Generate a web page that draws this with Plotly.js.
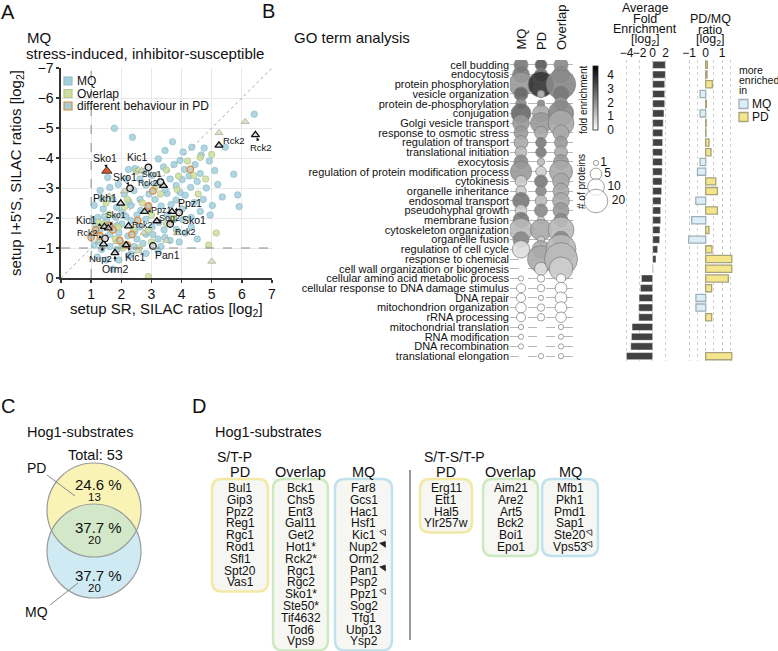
<!DOCTYPE html>
<html>
<head>
<meta charset="utf-8">
<script src="https://cdn.plot.ly/plotly-3.0.1.min.js"></script>
<style>
html,body{margin:0;padding:0;background:#fff;}
#chart{width:778px;height:651px;}
</style>
</head>
<body>
<div id="chart"></div>
<script>
// ================= DATA =================
// Panel A: SILAC ratios [log2]  (x: setup SR, y: setup I+5'S)
const mqX = [1.77,2.37,3.70,4.34,4.75,5.45,6.41,5.73,5.86,5.91,2.24,3.23,3.40,3.75,3.95,4.10,4.45,4.62,4.92,5.10,2.62,2.82,3.02,3.62,3.82,4.02,4.30,4.52,4.82,5.20,1.30,1.62,1.90,2.10,2.42,2.62,2.92,3.12,3.52,3.82,4.12,4.42,4.72,5.02,1.10,1.40,1.72,2.02,2.32,2.52,2.92,3.32,3.52,4.02,4.32,4.62,4.32,4.52,1.05,1.22,1.52,1.82,2.02,2.32,2.62,2.82,3.02,3.42,3.82,4.12,1.10,1.30,1.62,1.92,2.22,2.52,2.82,3.22,3.62,3.92,1.10,1.25,1.62,2.02,2.42,2.72,3.32,1.20,1.50,1.92,2.32,2.82,1.72,3.22,1.35,1.85,2.25,2.75,3.15,3.45,3.65,3.95,4.25,2.15,1.55,2.45,1.15,1.45,2.15,2.65,3.25,3.75,4.05,1.85,2.45,3.05,3.45,1.35,1.85,2.25,4.95,5.35,4.65,4.05,3.45];
const mqY = [-4.99,-4.69,-4.54,-4.36,-4.33,-4.36,-5.46,-3.46,-2.77,-2.38,-3.62,-3.97,-3.70,-3.78,-3.92,-3.62,-3.78,-3.48,-3.90,-3.58,-3.30,-3.10,-3.42,-3.30,-3.08,-3.28,-3.02,-3.22,-3.00,-3.12,-2.92,-3.02,-3.12,-2.80,-2.92,-2.62,-2.80,-2.62,-2.82,-2.60,-2.76,-2.52,-2.62,-2.42,-2.42,-2.30,-2.62,-2.20,-2.42,-2.10,-2.36,-2.40,-2.10,-2.30,-2.02,-2.22,-1.70,-1.30,-1.90,-2.02,-1.92,-2.02,-1.80,-1.92,-1.70,-1.96,-1.70,-1.60,-1.62,-1.50,-1.50,-1.62,-1.45,-1.50,-1.40,-1.30,-1.46,-1.30,-1.25,-1.20,-1.10,-1.22,-1.05,-1.15,-1.05,-1.15,-1.05,-0.70,-0.60,-0.60,-0.80,-0.82,-0.30,-0.90,-2.65,-2.35,-2.55,-3.55,-3.15,-2.95,-2.45,-2.85,-3.40,-3.30,-3.35,-3.65,-1.75,-2.05,-2.05,-2.25,-1.85,-1.95,-1.95,-1.75,-1.55,-1.45,-1.35,-0.95,-0.95,-0.75,-2.10,-2.70,-4.10,-4.20,-4.25];
const overlapX = [2.50,3.50,4.20,4.62,5.00,3.12,3.90,4.40,1.50,2.20,2.70,3.00,3.72,1.40,1.90,2.40,2.90,3.50,1.80,2.60,3.00,2.90,4.90,5.15,1.60,2.10,3.30,4.80,2.05,1.25,3.85,4.55];
const overlapY = [-3.55,-3.60,-3.90,-4.02,-4.12,-3.00,-3.40,-3.42,-2.50,-2.62,-2.50,-2.10,-2.00,-1.80,-1.70,-1.62,-1.60,-1.80,-1.30,-1.00,-1.20,-0.05,-1.10,-1.50,-2.12,-2.36,-2.80,-3.30,-1.00,-1.85,-2.95,-2.80];
const multiX = [5.24,6.11,2.57,2.68,3.20,2.10,3.50,5.00,1.60,2.75,3.85,1.30,1.85,2.55];
const multiY = [-4.84,-5.21,-3.60,-3.58,-3.45,-2.90,-1.25,-0.55,-2.72,-1.50,-1.50,-1.25,-1.20,-0.90];
const diffX = [4.29,2.90,1.60,1.30,1.00,2.20,1.72,2.55,3.05,1.95,2.35,1.15];
const diffY = [-3.62,-2.40,-1.75,-1.40,-1.35,-1.10,-1.60,-1.92,-2.90,-1.25,-1.45,-1.60];
// Known Hog1 targets (labelled)
const hogGene  = ['Rck2','Rck2','Rck2','Pkh1','Ppz1','Ppz1','Sog2','Rck2','Kic1','Sko1','Nup2','Orm2','Kic1','Kic1','Sko1','Sko1','Sko1','Rck2','Rck2','Pan1','Sko1'];
const hogX     = [5.24,6.45,3.40,1.98,2.77,3.68,3.18,2.24,1.44,1.57,1.41,1.79,2.16,2.90,2.29,3.30,3.92,3.62,1.46,3.05,1.52];
const hogY     = [-4.42,-4.77,-3.08,-2.49,-2.21,-2.21,-1.90,-1.73,-1.71,-1.66,-1.13,-0.84,-1.10,-3.69,-2.99,-3.20,-2.18,-1.80,-1.32,-1.07,-3.57];
const hogShape = ['t','t','t','t','t','t','t','t','t','t','t','t','t','c','c','c','c','c','c','c','r'];

// Panel B: GO term analysis
const goTerms = ['cell budding','endocytosis','protein phosphorylation','vesicle organization','protein de-phosphorylation','conjugation','Golgi vesicle transport','response to osmotic stress','regulation of transport','translational initiation','exocytosis','regulation of protein modification process','cytokinesis','organelle inheritance','endosomal transport','pseudohyphal growth','membrane fusion','cytoskeleton organization','organelle fusion','regulation of cell cycle','response to chemical','cell wall organization or biogenesis','cellular amino acid metabolic process','cellular response to DNA damage stimulus','DNA repair','mitochondrion organization','rRNA processing','mitochondrial translation','RNA modification','DNA recombination','translational elongation'];
const goColumns = ['MQ','PD','Overlap'];
const mqCount = [7,10,21,7,4,14,10,7,7,5,7,16,5,4,10,5,9,19,9,11,null,null,1,3,3,4,3,1,1,1,null];
const pdCount = [5,6,24,2,2,10,16,6,4,4,2,4,6,4,5,6,2,16,2,11,26,6,2,2,1,2,2,null,null,null,1];
const ovCount = [7,10,31,9,6,23,24,9,6,6,8,19,10,9,10,9,7,24,10,32,39,20,3,5,5,5,4,1,1,1,1];
const mqFold = [2.45,2.45,1.85,2.75,2.15,2.75,1.85,1.85,1.55,1.25,2.15,1.85,0.9,0.9,2.45,0.9,2.45,1.25,2.15,0.6,null,null,0,0,0,0,0,0,0,0,null];
const pdFold = [3.05,2.45,3.7,1.25,2.15,1.55,1.85,1.55,2.45,2.45,1.25,0.9,2.45,2.15,1.25,2.15,0.9,1.55,0.9,1.55,1.55,0.6,0,0,0,0,0,null,null,null,0];
const ovFold = [2.15,2.15,2.15,2.45,1.85,2.15,1.55,1.55,1.85,1.55,1.85,1.55,1.55,1.55,1.55,1.85,2.15,1.25,2.15,1.25,1.25,0.9,0,0,0,0,0,0,0,0,0];
const avgFoldLog2 = [1.95,1.95,1.85,1.85,1.85,1.74,1.62,1.55,1.53,1.5,1.48,1.46,1.43,1.38,1.28,1.23,1.23,1.13,1.08,0.77,0.51,0.1,-1.74,-1.9,-2.1,-2.15,-2.15,-3.18,-3.28,-3.38,-4.05];
const pdMqRatioLog2 = [0.1,0.08,0.4,-0.34,0.04,-0.34,0.03,0.02,0.2,0.32,-0.34,-0.5,0.61,0.71,-0.6,0.71,-0.85,0.2,-1.03,0.38,1.58,1.58,1.37,0.36,-0.59,-0.59,0.36,null,null,null,1.58];
const sizeLegend = [1,5,10,20];
const foldTicks = [0,1,2,3,4];

// Panel C: Venn
const vennTotal = 53;
const vennCounts = [13,20,20];           // PD only, overlap, MQ only
const vennPercent = ['24.6 %','37.7 %','37.7 %'];

// Panel D: Hog1 substrate lists
const stpPD = ['Bul1','Gip3','Ppz2','Reg1','Rgc1','Rod1','Sfl1','Spt20','Vas1'];
const stpOverlap = ['Bck1','Chs5','Ent3','Gal11','Get2','Hot1*','Rck2*','Rgc1','Rgc2','Sko1*','Ste50*','Tif4632','Tod6','Vps9'];
const stpMQ = ['Far8','Gcs1','Hac1','Hsf1','Kic1','Nup2','Orm2','Pan1','Psp2','Ppz1','Sog2','Tfg1','Ubp13','Ysp2'];
const stpMQMark = ['','','','','open','filled','','filled','','open','','','',''];
const ststpPD = ['Erg11','Ett1','Hal5','Ylr257w'];
const ststpOverlap = ['Aim21','Are2','Art5','Bck2','Boi1','Epo1'];
const ststpMQ = ['Mfb1','Pkh1','Pmd1','Sap1','Ste20','Vps53'];
const ststpMQMark = ['','','','','open','open'];

// ================= DRAWING =================
const FONT = 'Liberation Sans, Arial, Helvetica, sans-serif';
const W = 778, H = 651;
const PX = v => v / W, PY = v => 1 - v / H;
const tr = [], ann = [], shp = [];
function label(x, y, text, size, xanchor, extra) {
  ann.push(Object.assign({xref:'paper', yref:'paper', x:PX(x), y:PY(y), text:text, showarrow:false,
    xanchor:xanchor || 'center', yanchor:'middle', font:{family:FONT, size:size, color:'#111'}}, extra || {}));
}
function roundRect(x0, y0, x1, y1, r, color) {
  const p = `M ${x0+r},${y0} L ${x1-r},${y0} Q ${x1},${y0} ${x1},${y0+r} L ${x1},${y1-r} Q ${x1},${y1} ${x1-r},${y1} L ${x0+r},${y1} Q ${x0},${y1} ${x0},${y1-r} L ${x0},${y0+r} Q ${x0},${y0} ${x0+r},${y0} Z`;
  shp.push({type:'path', xref:'x3', yref:'y3', path:p, fillcolor:'#f6f6f3', line:{color:color, width:2.5}, layer:'below'});
}

// ---- Panel A ----
tr.push({type:'scatter', mode:'markers', x:mqX, y:mqY, xaxis:'x', yaxis:'y', hoverinfo:'skip',
  marker:{symbol:'circle', size:6.5, color:'rgba(163,207,220,0.85)', line:{color:'rgba(125,178,195,0.9)', width:0.6}}});
tr.push({type:'scatter', mode:'markers', x:overlapX, y:overlapY, xaxis:'x', yaxis:'y', hoverinfo:'skip',
  marker:{symbol:'circle', size:6.5, color:'rgba(205,222,160,0.85)', line:{color:'rgba(165,185,120,0.9)', width:0.6}}});
tr.push({type:'scatter', mode:'markers', x:multiX, y:multiY, xaxis:'x', yaxis:'y', hoverinfo:'skip',
  marker:{symbol:'triangle-up', size:7, color:'rgba(214,222,190,0.85)', line:{color:'rgba(150,160,130,0.9)', width:0.7}}});
tr.push({type:'scatter', mode:'markers', x:diffX, y:diffY, xaxis:'x', yaxis:'y', hoverinfo:'skip',
  marker:{symbol:'circle', size:6.5, color:'rgba(190,200,185,0.85)', line:{color:'#e08a3c', width:1.3}}});
const hogStyle = {
  t:{symbol:'triangle-up', size:7, color:'rgba(205,205,205,0.7)', line:{color:'#111', width:1.3}},
  c:{symbol:'circle', size:6.5, color:'rgba(205,205,205,0.7)', line:{color:'#111', width:1.3}},
  r:{symbol:'triangle-up', size:9, color:'#e4542c', line:{color:'#333', width:1}}
};
['t','c','r'].forEach(s => {
  const idx = hogShape.map((v,i)=>v===s?i:-1).filter(i=>i>=0);
  tr.push({type:'scatter', mode:'markers', x:idx.map(i=>hogX[i]), y:idx.map(i=>hogY[i]), xaxis:'x', yaxis:'y', hoverinfo:'skip', marker:hogStyle[s]});
});
// label placement (pixel offsets, font size)
const hogAx = [15,6,-15,-16,17,18,13,14,-18,8,-3,0,9,-11,-5,-8,15,15,-18,15,-2];
const hogAy = [-5,13,-3,-5,-2,-9,-3,-1,-7,-13,14,16,12,-10,-11,-8,7,8,-5,9,-13];
const hogFs = [9.5,9.5,8.5,10.5,9,10.5,9,9,10.5,8.5,9.5,10.5,10.5,10.5,10.5,8.5,10.5,9,9,10.5,10.5];
hogGene.forEach((g,i) => {
  ann.push({xref:'x', yref:'y', x:hogX[i], y:hogY[i], text:g, showarrow:true, ax:hogAx[i], ay:hogAy[i],
    arrowhead:2, arrowsize:0.7, arrowwidth:0.9, arrowcolor:'#111', standoff:3,
    font:{family:FONT, size:hogFs[i], color:'#111'}});
});
shp.push({type:'line', xref:'x', yref:'y', x0:1, x1:1, y0:0, y1:-7, line:{color:'#8a8a8a', width:1, dash:'dash'}});
shp.push({type:'line', xref:'x', yref:'y', x0:0, x1:7, y0:-1, y1:-1, line:{color:'#8a8a8a', width:1, dash:'dash'}});
shp.push({type:'line', xref:'x', yref:'y', x0:0, x1:7, y0:0, y1:-7, line:{color:'#a8a8a8', width:1, dash:'dot'}});
// legend (panel A)
const legA = [['MQ','#a3cfdc','#8dbfcc'],['Overlap','#cddea0','#b5c98a'],['different behaviour in PD','#a3cfdc','#e08a3c']];
legA.forEach((l,i) => {
  const y = 81 + i*12.5;
  shp.push({type:'rect', xref:'x3', yref:'y3', x0:64, x1:72, y0:y-4, y1:y+4, fillcolor:l[1], line:{color:l[2], width:1.2}, layer:'above'});
  label(75, y, l[0], 12, 'left');
});
label(25, 37, 'MQ', 15, 'left');
label(24, 53, 'stress-induced, inhibitor-susceptible', 15, 'left');
label(166, 309, 'setup SR, SILAC ratios [log<sub>2</sub>]', 15);
label(17, 173, "setup I+5'S, SILAC ratios [log<sub>2</sub>]", 15, 'center', {textangle:-90});

// ---- Panel B bubbles ----
const SIZEREF = 1/13.9;
const rowIdx = goTerms.map((_,i)=>i);
const colData = [[mqCount,mqFold],[pdCount,pdFold],[ovCount,ovFold]];
colData.forEach((cd, ci) => {
  const xs=[], ys=[], ss=[], cs=[];
  cd[0].forEach((n,i) => { if (n != null) { xs.push(ci); ys.push(i); ss.push(n); cs.push(cd[1][i]); } });
  tr.push({type:'scatter', mode:'markers', x:xs, y:ys, xaxis:'x2', yaxis:'y2', hoverinfo:'skip',
    marker:{size:ss, sizemode:'area', sizeref:SIZEREF, color:cs, cmin:0, cmax:4.65,
      colorscale:[[0,'#ffffff'],[1,'#000000']], opacity:0.9, line:{color:'#7d7d7d', width:0.8},
      showscale: ci === 0,
      colorbar:{x:PX(593), xanchor:'left', xpad:0, y:PY(98), yanchor:'middle', ypad:0,
        len:64, lenmode:'pixels', thickness:5, thicknessmode:'pixels', outlinewidth:0.8, outlinecolor:'#222',
        tickvals:foldTicks, ticks:'outside', ticklen:7, tickcolor:'rgba(0,0,0,0)',
        tickfont:{family:FONT, size:12, color:'#111'}}}});
  ann.push({xref:'x2', yref:'paper', x:ci, y:PY(52), text:goColumns[ci], textangle:-90, showarrow:false,
    xanchor:'center', yanchor:'bottom', font:{family:FONT, size:13, color:'#111'}});
});
// size legend
tr.push({type:'scatter', mode:'markers+text', x:sizeLegend.map(()=>596), y:[163,174,187,201], xaxis:'x3', yaxis:'y3',
  text:sizeLegend.map(String), textposition:'middle right', textfont:{family:FONT, size:12, color:'#111'}, hoverinfo:'skip',
  marker:{size:sizeLegend, sizemode:'area', sizeref:SIZEREF, color:'#ffffff', line:{color:'#555', width:0.8}}});
label(583, 100, 'fold enrichment', 10, 'center', {textangle:-90});
label(582, 182, '# of proteins', 10, 'center', {textangle:-90});
label(8, 12, 'A', 20, 'center');
label(268, 11, 'B', 20, 'center');
label(292, 37, 'GO term analysis', 15, 'left');

// ---- Panel B bars ----
tr.push({type:'bar', orientation:'h', x:avgFoldLog2, y:rowIdx, xaxis:'x4', yaxis:'y4', width:0.74, hoverinfo:'skip',
  marker:{color:'#424242', line:{color:'#ffffff', width:0.5}}});
tr.push({type:'bar', orientation:'h', x:pdMqRatioLog2, y:rowIdx, xaxis:'x5', yaxis:'y5', width:0.74, hoverinfo:'skip',
  marker:{color:pdMqRatioLog2.map(v => v > 0 ? '#f5e68c' : '#ddeff6'),
    line:{color:pdMqRatioLog2.map(v => v > 0 ? '#a8a27a' : '#9fb0b8'), width:1.3}}});
['Average','Fold','Enrichment','[log<sub>2</sub>]'].forEach((t,i) => label(645, 8 + i*10.7, t, 12.5));
['PD/MQ','ratio','[log<sub>2</sub>]'].forEach((t,i) => label(710, 19 + i*10.7, t, 12.5));
['more','enriched','in'].forEach((t,i) => label(737, 70 + i*10, t, 10.5, 'left'));
[['MQ','#ddeff6','#9fb0b8',104],['PD','#f5e68c','#a8a27a',117]].forEach(l => {
  shp.push({type:'rect', xref:'x3', yref:'y3', x0:739, x1:748, y0:l[3]-4.5, y1:l[3]+4.5, fillcolor:l[1], line:{color:l[2], width:1.3}, layer:'above'});
  label(750, l[3], l[0], 12, 'left');
});

// ---- Panel C Venn ----
label(8, 406, 'C', 20, 'center');
label(25, 432, 'Hog1-substrates', 14.5, 'left');
label(95, 455, 'Total: ' + vennTotal, 14.5, 'center');
const cx = 94, r = 47, cyPD = 510, cyMQ = 551;
shp.push({type:'circle', xref:'x3', yref:'y3', x0:cx-r, x1:cx+r, y0:cyPD-r, y1:cyPD+r, fillcolor:'#faf3b6', line:{width:0}, layer:'below'});
shp.push({type:'circle', xref:'x3', yref:'y3', x0:cx-r, x1:cx+r, y0:cyMQ-r, y1:cyMQ+r, fillcolor:'#cfeaf2', line:{width:0}, layer:'below'});
(function(){
  const h = (cyMQ - cyPD) / 2, a0 = Math.asin(h / r), pts = [];
  for (let k = 0; k <= 40; k++) { const t = a0 + (Math.PI - 2*a0) * k / 40; pts.push([cx + r*Math.cos(t), cyPD + r*Math.sin(t)]); }
  for (let k = 0; k <= 40; k++) { const t = Math.PI - a0 - (Math.PI - 2*a0) * k / 40; pts.push([cx + r*Math.cos(t), cyMQ - r*Math.sin(t)]); }
  shp.push({type:'path', xref:'x3', yref:'y3', path:'M ' + pts.map(p=>p[0].toFixed(2)+','+p[1].toFixed(2)).join(' L ') + ' Z', fillcolor:'#d3e8c9', line:{width:0}, layer:'below'});
})();
shp.push({type:'circle', xref:'x3', yref:'y3', x0:cx-r, x1:cx+r, y0:cyPD-r, y1:cyPD+r, line:{color:'#9a9a9a', width:1.2}, layer:'below'});
shp.push({type:'circle', xref:'x3', yref:'y3', x0:cx-r, x1:cx+r, y0:cyMQ-r, y1:cyMQ+r, line:{color:'#9a9a9a', width:1.2}, layer:'below'});
[484, 527, 575].forEach((y,i) => { label(98, y, vennPercent[i], 15); label(94, y + 13, String(vennCounts[i]), 11.5); });
label(36, 468, 'PD', 14);
label(36, 612, 'MQ', 14);
shp.push({type:'line', xref:'x3', yref:'y3', x0:47, y0:475, x1:75, y1:496, line:{color:'#888', width:1}});
shp.push({type:'line', xref:'x3', yref:'y3', x0:50, y0:605, x1:78, y1:583, line:{color:'#888', width:1}});

// ---- Panel D lists ----
label(199, 406, 'D', 20, 'center');
label(213, 432, 'Hog1-substrates', 14.5, 'left');
label(215, 457, 'S/T-P', 14, 'left');
label(422, 457, 'S/T-S/T-P', 14, 'left');
const ROW0 = 488, DY = 11.8;
const lists = [
  {items:stpPD, cx:240, w:56, col:'#f1e9a4', head:'PD'},
  {items:stpOverlap, cx:300.5, w:55, col:'#cde9bf', head:'Overlap'},
  {items:stpMQ, cx:363.5, w:57, col:'#bfe2ec', head:'MQ', marks:stpMQMark},
  {items:ststpPD, cx:446, w:52, col:'#f1e9a4', head:'PD'},
  {items:ststpOverlap, cx:510.5, w:55, col:'#cde9bf', head:'Overlap'},
  {items:ststpMQ, cx:570, w:56, col:'#bfe2ec', head:'MQ', marks:ststpMQMark}
];
lists.forEach(L => {
  label(L.cx, 472, L.head, 14.5);
  roundRect(L.cx - L.w/2, ROW0 - 9, L.cx + L.w/2, ROW0 + (L.items.length - 1) * DY + 9, 10, L.col);
  L.items.forEach((t,i) => label(L.cx, ROW0 + i*DY, t, 12));
  if (L.marks) {
    ['open','filled'].forEach(kind => {
      const ids = L.marks.map((m,i)=>m===kind?i:-1).filter(i=>i>=0);
      if (!ids.length) return;
      tr.push({type:'scatter', mode:'markers', x:ids.map(()=>L.cx + 20), y:ids.map(i=>ROW0 + i*DY - 3), xaxis:'x3', yaxis:'y3', hoverinfo:'skip',
        marker:{symbol: kind === 'open' ? 'triangle-up-open' : 'triangle-up', angle:35, size:6, color:'#222', line:{color:'#222', width:0.8}}});
    });
  }
});
shp.push({type:'line', xref:'x3', yref:'y3', x0:410, x1:410, y0:470, y1:640, line:{color:'#777', width:1.5}});

// ================= LAYOUT =================
const axisBase = {showline:true, linecolor:'#333', linewidth:1.6, ticks:'outside', ticklen:3, tickcolor:'#333', tickwidth:1.3,
  showgrid:true, gridcolor:'#e8e8e8', gridwidth:1, zeroline:false, dtick:1, automargin:false,
  tickfont:{family:FONT, size:14, color:'#111'}};
const barY = {domain:[PY(361), PY(60)], range:[30.5, -0.5], visible:false, fixedrange:true};
const gridDot = {showgrid:true, gridcolor:'#c4c4c4', gridwidth:0.8, griddash:'dot'};
const layout = {
  width:W, height:H, margin:{l:0, r:0, t:0, b:0}, showlegend:false,
  paper_bgcolor:'#ffffff', plot_bgcolor:'rgba(0,0,0,0)', font:{family:FONT, color:'#111'},
  bargap:0,
  xaxis: Object.assign({}, axisBase, {domain:[PX(61), PX(272)], range:[0,7], anchor:'y'}),
  yaxis: Object.assign({}, axisBase, {domain:[PY(278), PY(68)], range:[0,-7], anchor:'x'}),
  xaxis2:{domain:[PX(510), PX(578)], range:[-0.55, 2.85], visible:false, anchor:'y2', fixedrange:true},
  yaxis2:{domain:[PY(361), PY(60)], range:[30.5, -0.5], anchor:'x2', tickvals:rowIdx, ticktext:goTerms,
    tickfont:{family:FONT, size:11, color:'#111'}, ticks:'', showline:false, zeroline:false,
    showgrid:true, gridcolor:'#9a9a9a', gridwidth:0.7, griddash:'dash', automargin:false},
  xaxis3:{domain:[0,1], range:[0,W], visible:false, anchor:'y3', fixedrange:true},
  yaxis3:{domain:[0,1], range:[H,0], visible:false, anchor:'x3', fixedrange:true},
  xaxis4:Object.assign({domain:[PX(620.85), PX(673.5)], range:[-4.9, 3.2], side:'top', anchor:'y4', tickvals:[-4,-2,0,2],
    tickangle:0, tickfont:{family:FONT, size:12, color:'#111'}, ticks:'', showline:false, zeroline:false,
    automargin:false, fixedrange:true}, gridDot),
  yaxis4:Object.assign({anchor:'x4'}, barY),
  xaxis5:Object.assign({domain:[PX(684.25), PX(737.05)], range:[-1.3, 1.9], side:'top', anchor:'y5', tickvals:[-1,0,1],
    tickangle:0, tickfont:{family:FONT, size:12, color:'#111'}, ticks:'', showline:false, zeroline:false,
    automargin:false, fixedrange:true,
    minor:{tick0:0, dtick:0.5, showgrid:true, gridcolor:'#c4c4c4', gridwidth:0.8, griddash:'dot', ticks:''}}, gridDot),
  yaxis5:Object.assign({anchor:'x5'}, barY),
  annotations: ann,
  shapes: shp
};
Plotly.newPlot('chart', tr, layout, {staticPlot:true, displayModeBar:false});
</script>
</body>
</html>
